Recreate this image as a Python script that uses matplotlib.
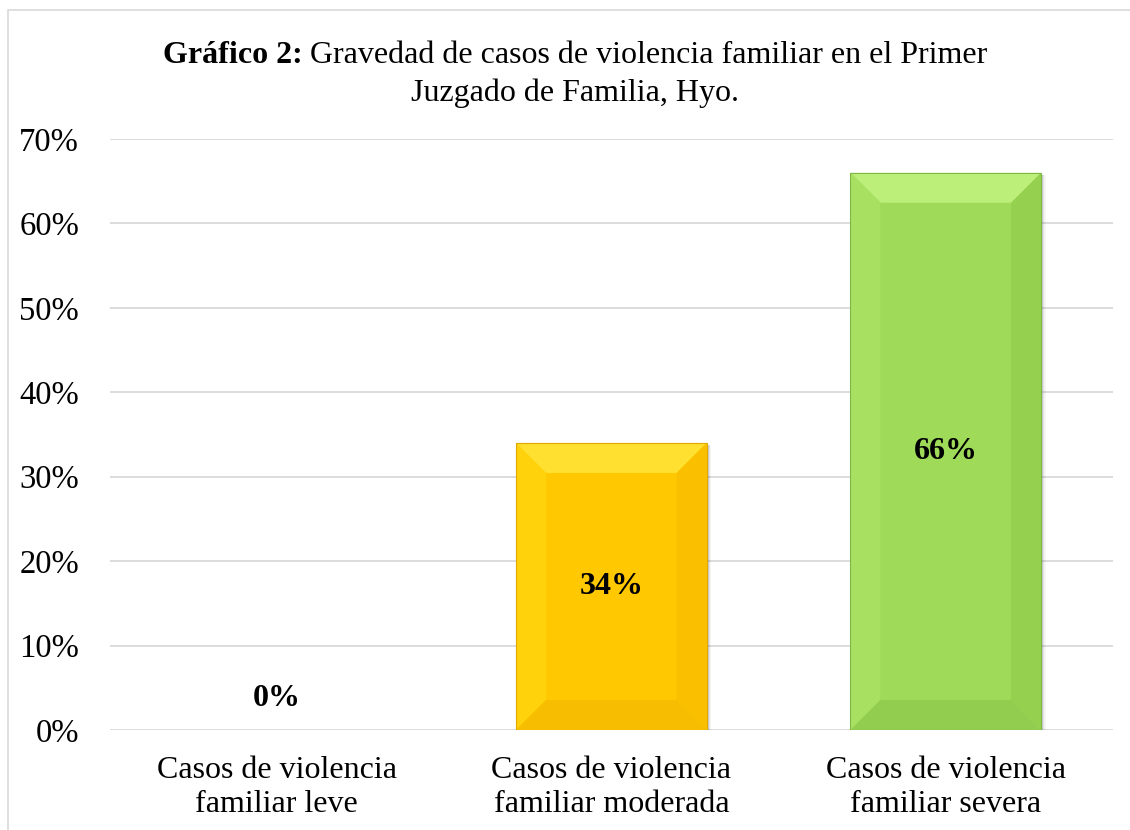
import matplotlib
matplotlib.use("Agg")
import matplotlib.pyplot as plt
from matplotlib.patches import Polygon, Rectangle

# --- Data ---
categories = ["Casos de violencia\nfamiliar leve",
              "Casos de violencia\nfamiliar moderada",
              "Casos de violencia\nfamiliar severa"]
values = [0.00, 0.34, 0.66]
value_labels = ["0%", "34%", "66%"]
ytick_vals = [0, 0.1, 0.2, 0.3, 0.4, 0.5, 0.6, 0.7]
ytick_labels = ["0%", "10%", "20%", "30%", "40%", "50%", "60%", "70%"]

# face, top, left, right, bottom bevel colours
bar_colors = [
    ("#FFFFFF", "#FFFFFF", "#FFFFFF", "#FFFFFF", "#FFFFFF"),
    ("#FFC800", "#FFE030", "#FFD20C", "#FAC000", "#F7BD00"),
    ("#9FDA58", "#BCEE7A", "#A8E062", "#95D04E", "#93CD4F"),
]
edge_colors = ["#FFFFFF", "#E0A800", "#7FB844"]

FONT = "Liberation Serif"
plt.rcParams["font.family"] = [FONT, "DejaVu Serif"]

fig = plt.figure(figsize=(11.3, 8.3), dpi=100)
ax = fig.add_axes([0.097, 0.1205, 0.888, 0.712])

# chart border
fig.patches.append(Rectangle((0.007, -0.01), 1.0, 0.998, transform=fig.transFigure,
                             fill=False, edgecolor="#D9D9D9", linewidth=1.2))

x = list(range(len(categories)))
width = 0.57
ax.set_xlim(-0.5, 2.5)
ax.set_ylim(0, 0.7)

# bevel size in data units (~30 px)
bx = 30 / (0.888 * 1130) * 3.0
by = 30 / (0.712 * 830) * 0.7

for xi, v, cols, ec in zip(x, values, bar_colors, edge_colors):
    if v <= 0:
        continue
    face, top, left, right, bottom = cols
    x0, x1 = xi - width / 2, xi + width / 2
    # soft drop shadow
    for k, a in enumerate([0.10, 0.07, 0.04]):
        ax.add_patch(Rectangle((x0 + 0.006 + 0.004 * k, 0), width, v - 0.003,
                               facecolor="#000000", alpha=a, edgecolor="none", zorder=2))
    ax.bar(xi, v, width=width, color=face, edgecolor="none", zorder=3)
    ax.add_patch(Polygon([(x0, v), (x1, v), (x1 - bx, v - by), (x0 + bx, v - by)],
                         facecolor=top, edgecolor="none", zorder=4))
    ax.add_patch(Polygon([(x0, 0), (x0, v), (x0 + bx, v - by), (x0 + bx, by)],
                         facecolor=left, edgecolor="none", zorder=4))
    ax.add_patch(Polygon([(x1, 0), (x1, v), (x1 - bx, v - by), (x1 - bx, by)],
                         facecolor=right, edgecolor="none", zorder=4))
    ax.add_patch(Polygon([(x0, 0), (x1, 0), (x1 - bx, by), (x0 + bx, by)],
                         facecolor=bottom, edgecolor="none", zorder=4))
    ax.add_patch(Rectangle((x0, 0), width, v, fill=False, edgecolor=ec,
                           linewidth=0.8, zorder=5))

for xi, v, lab in zip(x, values, value_labels):
    if v <= 0:
        ax.annotate(lab, (xi, v), xytext=(0, 23), textcoords="offset points",
                    ha="center", va="center", fontsize=23, fontweight="bold", zorder=6)
    else:
        ax.text(xi, v / 2, lab, ha="center", va="center", fontsize=23,
                fontweight="bold", zorder=6)

ax.set_yticks(ytick_vals)
ax.set_yticklabels(ytick_labels, fontsize=23.5)
ax.set_xticks(x)
ax.set_xticklabels(categories, fontsize=23, linespacing=1.2)
ax.tick_params(axis="both", length=0)
ax.tick_params(axis="y", pad=22)
ax.tick_params(axis="x", pad=19)
ax.grid(axis="y", color="#D9D9D9", linewidth=1.3, zorder=0)
ax.set_axisbelow(True)
for s in ax.spines.values():
    s.set_visible(False)

# title: bold prefix + regular remainder, centred as one line
fig.canvas.draw()
renderer = fig.canvas.get_renderer()
t_bold = fig.text(0, 0.9335, "Gráfico 2:", fontsize=23, fontweight="bold", va="center")
t_reg = fig.text(0, 0.9335, " Gravedad de casos de violencia familiar en el Primer",
                 fontsize=23, va="center")
wb = t_bold.get_window_extent(renderer).width
wr = t_reg.get_window_extent(renderer).width
start = (1130 * 0.509 - (wb + wr) / 2) / 1130
t_bold.set_x(start)
t_reg.set_x(start + wb / 1130)
fig.text(0.509, 0.888, "Juzgado de Familia, Hyo.", fontsize=23, ha="center", va="center")

fig.savefig("out.png", dpi=100)
